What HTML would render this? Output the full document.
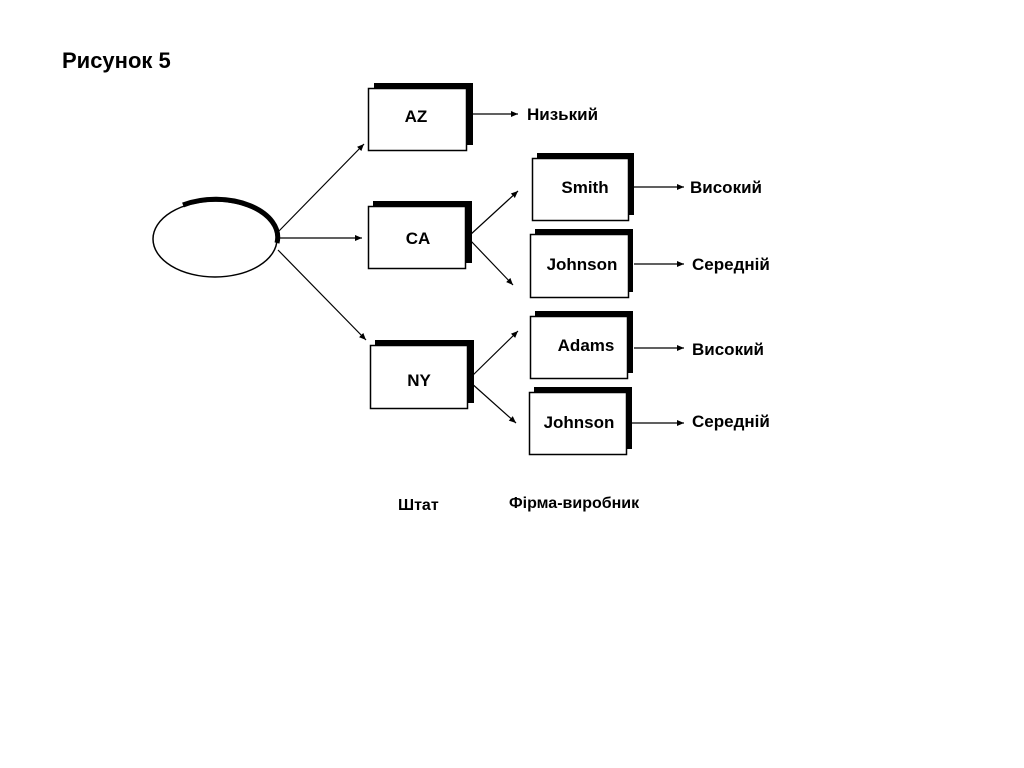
<!DOCTYPE html>
<html><head><meta charset="utf-8"><style>
html,body{margin:0;padding:0;background:#fff;width:1024px;height:768px;overflow:hidden}
svg{display:block}
text{font-family:"Liberation Sans",sans-serif;font-weight:bold;fill:#000}
</style></head><body>
<svg width="1024" height="768" viewBox="0 0 1024 768" xmlns="http://www.w3.org/2000/svg">
<defs>
<marker id="a" markerWidth="8" markerHeight="8" refX="7" refY="4" orient="auto" markerUnits="userSpaceOnUse">
<path d="M0,1 L7,4 L0,7 Z" fill="#000"/>
</marker>
</defs>
<text x="62" y="68" font-size="22">Рисунок 5</text>

<!-- ellipse -->
<ellipse cx="215" cy="239" rx="62" ry="38" fill="#fff" stroke="#000" stroke-width="1.5"/>
<path d="M183,205 A62,38 0 0 1 277,243" fill="none" stroke="#000" stroke-width="5"/>

<g stroke="#000" stroke-width="1.2" fill="none" marker-end="url(#a)">
<line x1="278" y1="232" x2="364" y2="144"/>
<line x1="278" y1="238" x2="362" y2="238"/>
<line x1="278" y1="250" x2="366" y2="340"/>
<line x1="470" y1="235" x2="518" y2="191"/>
<line x1="470" y1="240" x2="513" y2="285"/>
<line x1="470" y1="378" x2="518" y2="331"/>
<line x1="470" y1="382" x2="516" y2="423"/>
<line x1="472" y1="114" x2="518" y2="114"/>
<line x1="634" y1="187" x2="684" y2="187"/>
<line x1="634" y1="264" x2="684" y2="264"/>
<line x1="634" y1="348" x2="684" y2="348"/>
<line x1="632" y1="423" x2="684" y2="423"/>
</g>

<!-- boxes -->
<g>
<rect x="374" y="83" width="99" height="62" fill="#000"/>
<rect x="368.5" y="88.5" width="98" height="62" fill="#fff" stroke="#000" stroke-width="1.5"/>
<rect x="373" y="201" width="99" height="62" fill="#000"/>
<rect x="368.5" y="206.5" width="97" height="62" fill="#fff" stroke="#000" stroke-width="1.5"/>
<rect x="375" y="340" width="99" height="63" fill="#000"/>
<rect x="370.5" y="345.5" width="97" height="63" fill="#fff" stroke="#000" stroke-width="1.5"/>
<rect x="537" y="153" width="97" height="62" fill="#000"/>
<rect x="532.5" y="158.5" width="96" height="62" fill="#fff" stroke="#000" stroke-width="1.5"/>
<rect x="535" y="229" width="98" height="63" fill="#000"/>
<rect x="530.5" y="234.5" width="98" height="63" fill="#fff" stroke="#000" stroke-width="1.5"/>
<rect x="535" y="311" width="98" height="62" fill="#000"/>
<rect x="530.5" y="316.5" width="97" height="62" fill="#fff" stroke="#000" stroke-width="1.5"/>
<rect x="534" y="387" width="98" height="62" fill="#000"/>
<rect x="529.5" y="392.5" width="97" height="62" fill="#fff" stroke="#000" stroke-width="1.5"/>
</g>

<g font-size="17" text-anchor="middle">
<text x="416" y="122">AZ</text>
<text x="418" y="244">CA</text>
<text x="419" y="386">NY</text>
<text x="585" y="193">Smith</text>
<text x="582" y="270">Johnson</text>
<text x="586" y="351">Adams</text>
<text x="579" y="428">Johnson</text>
</g>
<g font-size="17">
<text x="527" y="120">Низький</text>
<text x="690" y="193">Високий</text>
<text x="692" y="270">Середній</text>
<text x="692" y="355">Високий</text>
<text x="692" y="427">Середній</text>
<text x="398" y="510" font-size="16">Штат</text>
<text x="509" y="508" font-size="16">Фірма-виробник</text>
</g>
</svg>
</body></html>
